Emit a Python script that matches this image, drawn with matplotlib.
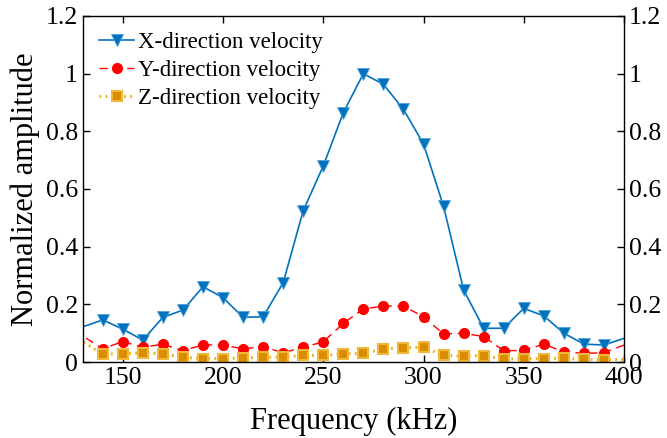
import numpy as np
import matplotlib
matplotlib.use('Agg')
import matplotlib.pyplot as plt
from matplotlib.ticker import FormatStrFormatter

plt.rcParams['font.family'] = ['Liberation Serif', 'DejaVu Serif']
plt.rcParams['mathtext.fontset'] = 'stix'

freq = [120, 140, 150, 160, 170, 180, 190, 200, 210, 220, 230, 240, 250, 260,
        270, 280, 290, 300, 310, 320, 330, 340, 350, 360, 370, 380, 390, 410]

x_vel = [0.098, 0.146, 0.114, 0.076, 0.155, 0.180, 0.261, 0.223, 0.155, 0.157,
         0.275, 0.525, 0.680, 0.865, 1.000, 0.963, 0.876, 0.756, 0.540, 0.250,
         0.117, 0.117, 0.186, 0.160, 0.100, 0.062, 0.059, 0.105]
y_vel = [0.134, 0.046, 0.071, 0.051, 0.062, 0.039, 0.060, 0.058, 0.046, 0.053,
         0.032, 0.051, 0.070, 0.134, 0.184, 0.194, 0.194, 0.157, 0.097, 0.100,
         0.088, 0.039, 0.040, 0.062, 0.035, 0.030, 0.032, 0.086]
z_vel = [0.112, 0.028, 0.028, 0.032, 0.028, 0.016, 0.012, 0.012, 0.014, 0.016,
         0.017, 0.023, 0.023, 0.028, 0.030, 0.045, 0.050, 0.051, 0.023, 0.021,
         0.022, 0.010, 0.011, 0.012, 0.013, 0.009, 0.007, 0.011]

fig = plt.figure(figsize=(6.67, 4.38), dpi=100)
ax = fig.add_axes([0.124, 0.1735, 0.8115, 0.79])

ax.plot(freq, x_vel, color='#0072BD', lw=1.2, marker='v', ms=8,
        mfc='#0072BD', mec='#4DA3DD', mew=0.6, label='X-direction velocity')
ax.plot(freq, y_vel, color='#FF0000', lw=1.0, ls=(0, (6, 4)), marker='o', ms=7,
        mfc='#FF0000', mec='#FF0000', label='Y-direction velocity')
ax.plot(freq, z_vel, color='#EDB120', lw=2.2, ls=(0, (0.6, 1.4)), marker='s', ms=7,
        mfc='#D98C00', mec='#F0B83A', mew=1.5, label='Z-direction velocity')

ax.set_xlim(130, 400)
ax.set_ylim(0, 1.2)
ax.set_xticks([150, 200, 250, 300, 350, 400])
ax.set_yticks([0, 0.2, 0.4, 0.6, 0.8, 1.0, 1.2])
ax.yaxis.set_major_formatter(FormatStrFormatter('%g'))
ax.tick_params(direction='in', top=True, right=True, labelright=True,
               labelsize=18.5, length=5, width=1)
for s in ax.spines.values():
    s.set_linewidth(1.0)

ax.set_xlabel('Frequency (kHz)', fontsize=22, labelpad=13)
ax.set_ylabel('Normalized amplitude', fontsize=22, labelpad=4)

ax.legend(loc='upper left', frameon=False, fontsize=16.5, handlelength=1.55,
          handletextpad=0.15, labelspacing=0.3, borderaxespad=0.3,
          bbox_to_anchor=(0.0, 1.0))

fig.savefig('out.png', dpi=100)
